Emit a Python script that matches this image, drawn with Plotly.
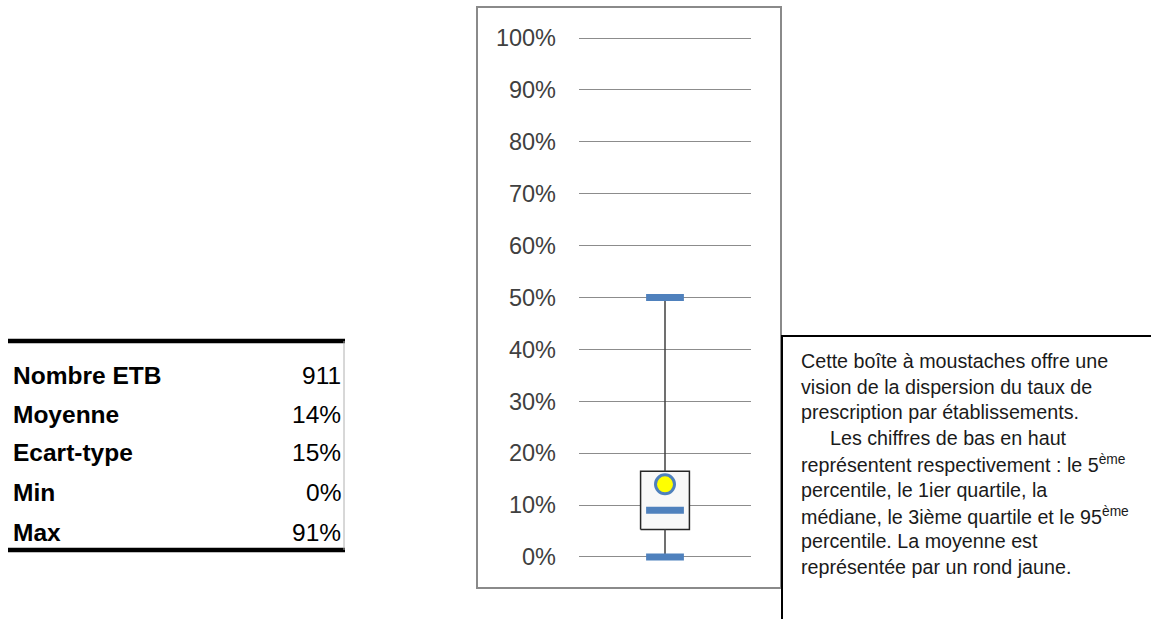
import plotly.graph_objects as go

# ---- data ----
stat_labels = ["Nombre ETB", "Moyenne", "Ecart-type", "Min", "Max"]
stat_values = ["911", "14%", "15%", "0%", "91%"]
p5 = 0.0
q1 = 0.053
median = 0.09
q3 = 0.165
p95 = 0.50
mean = 0.14
y_ticks = [i / 10 for i in range(11)]

W, H = 1151, 619
def px(x):
    return x / W
def py(y):
    return 1 - y / H

BLUE = "#4F81BD"
cx = 0.5
half_box = 0.142

fig = go.Figure()
# box body
fig.add_trace(go.Scatter(
    x=[cx - half_box, cx + half_box, cx + half_box, cx - half_box, cx - half_box],
    y=[q1, q1, q3, q3, q1], mode="lines", fill="toself",
    fillcolor="#f8f8f8", line=dict(color="#262626", width=1.5),
    hoverinfo="skip", showlegend=False))
# whiskers
fig.add_trace(go.Scatter(x=[cx, cx], y=[q3, p95], mode="lines",
                         line=dict(color="#404040", width=1.5), showlegend=False))
fig.add_trace(go.Scatter(x=[cx, cx], y=[p5, q1], mode="lines",
                         line=dict(color="#404040", width=1.5), showlegend=False))
# caps and median
fig.add_trace(go.Scatter(
    x=[cx, cx, cx], y=[p5, median, p95], mode="markers",
    marker=dict(symbol="line-ew", size=27, line=dict(color=BLUE, width=7)),
    cliponaxis=False, showlegend=False))
# mean
fig.add_trace(go.Scatter(
    x=[cx], y=[mean], mode="markers",
    marker=dict(symbol="circle", size=19, color="#FFFF00", line=dict(color=BLUE, width=3)),
    cliponaxis=False, showlegend=False))

shapes = []
# chart frame
shapes.append(dict(type="rect", xref="paper", yref="paper",
                   x0=px(477), x1=px(781), y0=py(588), y1=py(7),
                   line=dict(color="#8a8a8a", width=2), layer="below"))
# table lines
shapes.append(dict(type="line", xref="paper", yref="paper",
                   x0=px(8), x1=px(345), y0=py(341), y1=py(341),
                   line=dict(color="black", width=4.5)))
shapes.append(dict(type="line", xref="paper", yref="paper",
                   x0=px(8), x1=px(345), y0=py(550), y1=py(550),
                   line=dict(color="black", width=4.5)))
shapes.append(dict(type="line", xref="paper", yref="paper",
                   x0=px(344), x1=px(344), y0=py(341), y1=py(550),
                   line=dict(color="#b0b0b0", width=1)))
# text box border
shapes.append(dict(type="rect", xref="paper", yref="paper",
                   x0=px(782), x1=px(1160), y0=py(630), y1=py(336),
                   line=dict(color="black", width=2)))

annotations = []
row_y = [375, 414, 453, 493, 532]
for lab, val, yy in zip(stat_labels, stat_values, row_y):
    annotations.append(dict(xref="paper", yref="paper", x=px(11), y=py(yy),
                            text="<b>" + lab + "</b>", showarrow=False,
                            xanchor="left", yanchor="middle",
                            font=dict(family="Liberation Sans", size=24.5, color="black")))
    annotations.append(dict(xref="paper", yref="paper", x=px(343), y=py(yy),
                            text=val, showarrow=False,
                            xanchor="right", yanchor="middle",
                            font=dict(family="Liberation Sans", size=24.5, color="black")))

text_lines = [
    (799, "Cette boîte à moustaches offre une"),
    (799, "vision de la dispersion du taux de"),
    (799, "prescription par établissements."),
    (828, "Les chiffres de bas en haut"),
    (799, "représentent respectivement : le 5<sup>ème</sup>"),
    (799, "percentile, le 1ier quartile, la"),
    (799, "médiane, le 3ième quartile et le 95<sup>ème</sup>"),
    (799, "percentile. La moyenne est"),
    (799, "représentée par un rond jaune."),
]
line_y = [361, 386.5, 412, 438, 464, 490, 515.5, 541, 567]
for (xx, t), yy in zip(text_lines, line_y):
    annotations.append(dict(xref="paper", yref="paper", x=px(xx), y=py(yy),
                            text=t, showarrow=False, xanchor="left", yanchor="middle",
                            font=dict(family="Liberation Sans", size=19.7, color="#1a1a1a")))

fig.update_layout(
    width=W, height=H,
    margin=dict(l=0, r=0, t=0, b=0),
    paper_bgcolor="white", plot_bgcolor="white",
    showlegend=False,
    shapes=shapes, annotations=annotations,
    xaxis=dict(domain=[px(579), px(751)], range=[0, 1], visible=False, fixedrange=True),
    yaxis=dict(domain=[py(588.1), py(6.9)], range=[-0.06, 1.06],
               tickvals=y_ticks, tickformat=".0%",
               showgrid=True, gridcolor="#8c8c8c", gridwidth=1,
               zeroline=False, showline=False, ticks="",
               ticklabelstandoff=22, fixedrange=True,
               tickfont=dict(family="Liberation Sans", size=23.5, color="#404040")),
)

fig.write_html("out.html", config={"displayModeBar": False},
               post_script="document.body.style.margin='0';document.body.style.overflow='hidden';")
